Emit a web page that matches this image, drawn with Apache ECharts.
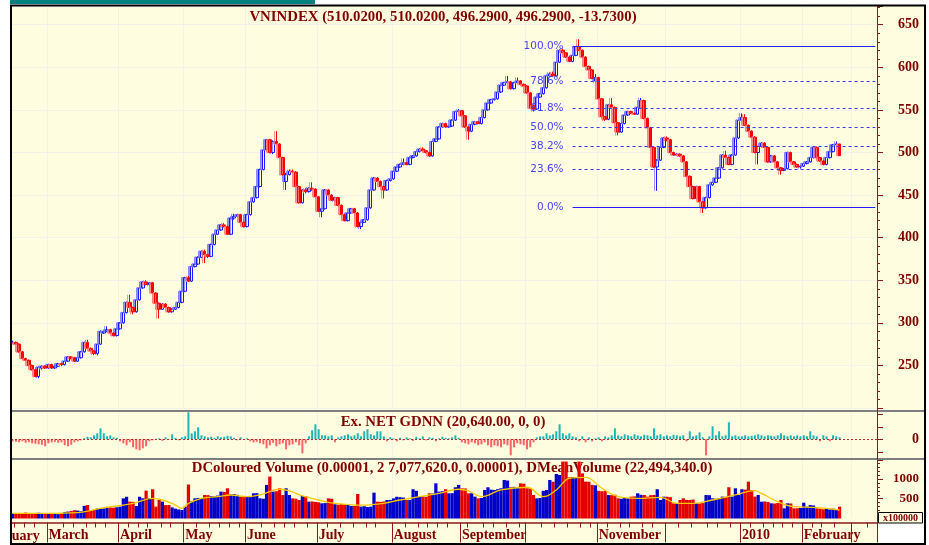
<!DOCTYPE html>
<html>
<head>
<meta charset="utf-8">
<title>VNINDEX</title>
<script src="https://cdn.jsdelivr.net/npm/echarts@6.0.0/dist/echarts.min.js"></script>
<style>
html, body { margin: 0; padding: 0; background: #fff; }
#chart { width: 929px; height: 545px; }
</style>
</head>
<body>
<div id="chart"></div>
<script>
// daily bars, Feb 2009 - Feb 2010
var opens = [
  277,277,275,266,258,256,250,245,237,247,
  249,247,251,247,249,252,251,255,260,259,
  255,259,266,277,270,267,264,275,288,290,
  292,288,285,293,300,312,324,318,313,327,
  341,348,345,347,335,323,316,322,318,313,
  316,318,324,337,353,349,366,369,377,384,
  380,378,392,404,409,415,413,404,423,425,
  427,418,413,427,442,447,460,480,503,515,
  500,513,510,494,466,474,478,477,460,441,
  456,454,458,457,448,431,434,456,450,444,
  447,438,427,420,429,434,429,413,418,421,
  435,456,470,466,460,456,467,469,478,483,
  486,488,486,494,496,501,504,502,500,496,
  513,516,530,534,530,531,538,548,549,543,
  530,525,533,536,534,541,550,558,562,563,
  571,579,582,583,575,582,584,580,578,570,
  555,551,565,569,576,590,592,590,606,620,
  617,612,607,614,624,620,612,601,597,584,
  588,563,542,539,556,553,535,524,534,544,
  548,546,545,553,561,540,529,506,483,491,
  506,517,515,500,497,498,496,489,472,460,
  446,460,442,435,447,462,465,470,482,497,
  494,486,497,517,538,541,532,525,518,500,
  507,511,506,489,496,489,482,479,481,500,
  489,486,483,484,487,489,494,506,494,490,
  486,494,501,509,510.02
];
var closes = [
  277,275,266,258,256,250,245,237,248,249,
  247,251,247,249,252,251,255,260,259,255,
  259,266,277,270,267,264,275,290,290,292,
  288,285,293,300,312,324,318,313,327,341,
  348,345,347,335,323,316,322,318,313,316,
  318,324,337,353,349,366,369,377,384,380,
  378,392,404,409,415,413,404,423,425,427,
  418,413,427,442,447,460,480,503,515,500,
  513,510,494,474,474,478,477,460,441,456,
  454,458,457,448,431,434,456,450,444,447,
  438,427,420,429,434,429,413,418,421,435,
  456,470,466,460,456,467,469,478,483,486,
  488,486,494,496,501,504,502,500,496,513,
  516,530,534,530,531,538,548,549,543,530,
  525,533,536,534,541,550,558,562,563,571,
  579,582,583,575,582,584,580,578,570,552,
  551,565,569,576,590,592,590,606,620,617,
  612,607,614,624,620,612,601,597,587,588,
  563,542,539,556,553,535,524,534,544,548,
  546,545,553,561,540,529,506,483,491,506,
  517,515,500,497,498,496,489,472,460,446,
  460,442,435,447,462,465,470,482,497,494,
  486,497,517,538,541,532,525,518,500,507,
  511,506,489,496,489,482,479,481,500,489,
  486,483,484,487,489,494,506,494,490,486,
  494,501,509,510,496.29
];
var lows = [
  275,274,265,257,255,249,244,236,235,245,
  246,246,246,246,248,249,250,254,257,254,
  254,258,265,269,266,262,262,274,287,289,
  287,284,284,292,299,311,317,310,312,326,
  340,344,343,334,322,305,315,317,312,312,
  315,317,323,336,348,348,365,368,376,370,
  376,377,391,403,408,412,403,403,421,424,
  417,412,412,426,441,446,459,479,502,499,
  498,509,493,473,456,473,476,459,440,440,
  452,453,455,447,430,424,433,449,443,442,
  437,426,419,419,428,428,412,410,417,420,
  434,455,465,459,446,455,466,468,477,482,
  485,485,485,493,495,500,501,499,495,495,
  512,515,529,529,529,530,537,547,542,529,
  515,524,532,533,533,540,549,557,561,562,
  570,578,581,574,574,581,579,577,569,551,
  548,550,564,568,575,589,589,589,605,616,
  611,606,606,613,619,611,600,596,586,582,
  562,541,537,538,552,534,520,523,533,543,
  545,544,544,552,539,528,505,482,455,490,
  505,513,499,496,496,495,488,471,459,445,
  445,441,429,434,446,461,464,469,481,493,
  485,485,496,516,536,531,524,517,499,486,
  506,505,488,488,488,481,474,478,480,488,
  485,482,481,483,486,488,493,493,489,485,
  485,493,500,508,496.29
];
var highs = [
  279,278,276,267,259,257,251,246,249,250,
  250,252,252,250,253,253,256,261,261,260,
  260,267,278,280,271,268,276,291,291,296,
  293,289,294,301,313,325,333,319,328,342,
  349,350,348,348,336,324,323,323,319,317,
  319,325,338,354,355,367,370,378,385,386,
  381,393,405,410,416,417,414,424,428,428,
  428,419,428,443,448,461,481,504,516,516,
  514,525,511,495,476,480,480,478,461,457,
  458,459,465,458,449,435,457,457,451,448,
  448,439,428,430,435,435,430,419,422,436,
  457,471,471,467,461,468,470,479,484,487,
  493,489,495,497,502,505,506,503,501,514,
  517,531,535,535,532,539,549,551,550,544,
  531,534,537,537,542,551,559,563,564,572,
  580,583,590,584,583,588,585,581,579,571,
  556,566,570,577,591,594,595,607,621,622,
  618,613,615,625,633,621,613,602,598,592,
  589,564,543,557,564,554,536,535,545,549,
  549,547,554,564,562,541,530,507,492,507,
  518,519,516,501,499,499,497,490,473,461,
  461,461,443,448,463,466,471,483,498,502,
  495,498,518,539,546,545,533,526,519,508,
  512,512,507,497,497,490,483,482,501,501,
  490,487,485,488,490,495,507,507,495,491,
  495,502,510,513,510.02
];
// volume, x100000
var volumes = [
  125,130,140,125,150,135,125,130,145,140,
  125,115,120,125,110,130,160,175,190,210,
  200,185,320,340,215,220,250,260,255,265,
  280,275,285,300,510,550,426,420,316,550,
  510,705,510,740,300,468,426,340,340,280,
  250,230,215,300,860,430,510,520,510,595,
  590,570,560,580,680,670,764,610,620,600,
  550,560,550,540,637,640,510,500,850,1060,
  680,690,764,595,764,595,510,500,468,570,
  570,426,430,420,410,384,390,510,500,360,
  350,370,355,360,316,320,620,300,310,290,
  300,654,426,420,430,468,470,510,550,540,
  530,468,470,740,700,553,560,550,637,630,
  890,680,690,740,637,640,790,850,764,760,
  637,640,553,510,520,722,790,730,720,740,
  764,975,960,790,800,780,890,880,764,760,
  595,510,520,700,720,975,930,1127,1100,1440,
  1440,1040,1050,1040,1440,1143,933,930,850,840,
  700,690,700,595,590,600,510,500,520,510,
  553,560,637,600,595,553,590,595,740,468,
  553,550,540,384,390,468,510,470,468,480,
  384,380,390,595,590,510,500,510,553,550,
  790,553,764,595,740,730,933,722,553,595,
  426,430,420,384,380,390,468,257,384,380,
  257,260,265,400,300,340,330,257,250,232,
  240,230,250,240,300
];
// Ex. NET GDNN, thousands
var netFlow = [
  -20,-25,-30,-20,-35,-30,-40,-45,-50,-55,
  -70,-40,-30,-25,-35,-30,-60,-70,-55,-30,
  -20,-10,10,25,20,40,60,110,60,30,
  40,20,15,-20,-40,-60,-30,-80,-100,-110,
  -90,-70,-20,-10,5,10,-15,20,5,50,
  15,-10,20,30,270,60,80,120,40,30,
  20,25,15,30,20,25,35,30,15,-10,
  20,-5,10,-20,-30,-25,-40,-50,-90,-60,
  -35,-70,-50,-40,-100,-60,-50,-30,-60,-140,
  -40,30,90,150,100,40,40,30,40,-30,
  20,30,40,50,30,40,60,30,80,100,
  50,40,80,80,30,-20,20,10,-20,15,
  -10,20,10,-15,25,10,30,-10,20,15,
  -20,10,25,15,10,20,40,15,-30,-40,
  -50,-30,-40,-60,-50,-30,-60,-80,-60,-70,
  -80,-50,-60,-160,-80,-40,-50,-60,-100,-80,
  -30,20,30,30,60,40,50,80,150,60,
  40,60,30,20,-20,30,-30,20,-20,10,
  20,-20,30,20,40,110,40,30,50,40,
  30,50,40,30,45,40,30,110,40,50,
  30,40,30,45,40,30,40,-20,80,30,
  40,70,20,-160,30,130,40,80,30,40,
  170,30,40,30,30,40,30,35,40,50,
  40,30,40,35,30,40,60,40,30,40,
  30,40,30,40,30,80,40,30,-20,40,
  30,-20,40,30,20.64
];
// DMeanVolume line, [bar, value]
var meanVolumePts = [
  [0,130],[10,130],[20,150],[27,257],[37,384],[43,510],[46,470],[50,340],[52,257],
  [54,384],[58,510],[63,553],[67,595],[72,553],[76,595],[82,740],[85,700],[89,570],
  [94,468],[99,384],[107,340],[114,384],[119,468],[125,553],[131,637],[137,740],
  [140,700],[144,553],[150,722],[158,790],[163,553],[167,722],[171,1017],[176,1040],
  [181,764],[186,553],[192,510],[199,536],[204,384],[209,384],[215,468],[222,595],
  [228,705],[230,637],[235,426],[240,300],[246,283],[250,257],[254,215]
];
var monthStarts = [11, 33, 53, 72, 94, 117, 138, 158, 180, 201, 224, 243, 258];
var monthLabels = ['March', 'April', 'May', 'June', 'July', 'August', 'September', '', 'November', '', '2010', 'February', ''];
var minorTicks = [1,4,7,16,19,23,26,29,36,39,42,46,49,57,61,64,67,70,77,81,84,87,91,97,101,105,109,112,
  121,125,128,131,134,140,145,148,152,156,163,167,171,175,178,183,187,190,194,197,205,209,214,217,221,
  227,231,234,237,240,246,249,253,263];
var fibLevels = [0, 23.6, 38.2, 50, 61.8, 78.6, 100];
var fibLow = 435.2, fibHigh = 624.6;

var BG = '#FFFDE0';
var BROWN = '#8B1A1A';
var LBL = '#800000';
var SERIF = '"Liberation Serif", "Times New Roman", serif';
var GRIDLINE = '#F2F2E8';
var NCAT = 266;

var cats = [];
for (var c = 0; c < NCAT; c++) cats.push(c);
var monthSet = {}, labelMap = {}, minorSet = {};
monthStarts.forEach(function (m, i) { monthSet[m] = true; labelMap[m] = monthLabels[i]; });
minorTicks.forEach(function (m) { minorSet[m] = true; });

var upData = [], downData = [], volData = [], netData = [];
for (var i = 0; i < closes.length; i++) {
  var item = [opens[i], closes[i], lows[i], highs[i]];
  var up = closes[i] >= opens[i];
  upData.push(up ? item : '-');
  downData.push(up ? '-' : item);
  volData.push({ value: volumes[i], itemStyle: { color: up ? '#0000C8' : '#E40000' } });
  netData.push({ value: netFlow[i], itemStyle: { color: netFlow[i] >= 0 ? '#1FB5B5' : '#FF6464' } });
}

var fibLines = fibLevels.map(function (lv) {
  var v = fibLow + (fibHigh - fibLow) * lv / 100;
  var solid = (lv === 0 || lv === 100);
  return [
    { coord: [172, v], lineStyle: { type: solid ? 'solid' : [3, 3], color: solid ? '#2222FF' : '#3A3AEE', width: 1 },
      label: { formatter: lv.toFixed(1) + '%' } },
    { coord: [265, v] }
  ];
});

function plainX(gi) {
  return {
    type: 'category', gridIndex: gi, data: cats, boundaryGap: true,
    axisLine: { show: false }, axisTick: { show: false }, axisLabel: { show: false },
    splitLine: { show: true, interval: function (idx) { return !!monthSet[idx]; }, lineStyle: { color: GRIDLINE, width: 1 } }
  };
}

var axisText = { color: LBL, fontWeight: 'bold', fontFamily: SERIF };
var TITLE_FONT = 'bold 14.8px ' + SERIF;

var option = {
  backgroundColor: BG,
  animation: false,
  grid: [
    { left: 11, right: 52, top: 6, height: 402 },
    { left: 11, right: 52, top: 411.3, height: 48 },
    { left: 11, right: 52, top: 460, height: 58.5 }
  ],
  xAxis: [
    plainX(0), plainX(1), plainX(2),
    {
      type: 'category', gridIndex: 2, data: cats, boundaryGap: true, position: 'bottom', offset: 4,
      axisLine: { show: true, lineStyle: { color: BROWN, width: 1.5 } },
      axisTick: { show: true, length: 20, interval: function (idx) { return !!monthSet[idx]; }, lineStyle: { color: BROWN, width: 1 } },
      axisLabel: {
        show: true, interval: function (idx) { return !!labelMap[idx]; },
        formatter: function (val, idx) { return labelMap[idx] || ''; },
        align: 'left', margin: 6, fontSize: 14, color: LBL, fontWeight: 'bold', fontFamily: SERIF
      },
      splitLine: { show: false }
    },
    {
      type: 'category', gridIndex: 2, data: cats, boundaryGap: true, position: 'bottom', offset: 4,
      axisLine: { show: false },
      axisTick: { show: true, length: 5, interval: function (idx) { return !!minorSet[idx]; }, lineStyle: { color: BROWN, width: 1 } },
      axisLabel: { show: false }, splitLine: { show: false }
    }
  ],
  yAxis: [
    {
      type: 'value', gridIndex: 0, position: 'right', min: 200, max: 672, interval: 50,
      axisLine: { show: true, lineStyle: { color: BROWN, width: 1 } },
      axisTick: { show: true, length: 6, lineStyle: { color: BROWN } },
      minorTick: { show: true, splitNumber: 5, length: 3, lineStyle: { color: BROWN } },
      axisLabel: Object.assign({ fontSize: 14, margin: 42, align: 'right',
        formatter: function (v) { return (v <= 200 || v > 650) ? '' : String(v); } }, axisText),
      splitLine: { show: true, lineStyle: { color: GRIDLINE, width: 1 } }
    },
    {
      type: 'value', gridIndex: 1, position: 'right', min: -200, max: 280,
      axisLine: { show: true, lineStyle: { color: BROWN, width: 1 } },
      axisTick: { show: true, length: 6, customValues: [-125, 0, 125, 250], lineStyle: { color: BROWN } },
      axisLabel: Object.assign({ fontSize: 14, margin: 42, align: 'right', customValues: [0],
        formatter: function (v) { return v === 0 ? '0' : ''; } }, axisText),
      splitLine: { show: false }
    },
    {
      type: 'value', gridIndex: 2, position: 'right', min: 0, max: 1480, interval: 500,
      axisLine: { show: true, lineStyle: { color: BROWN, width: 1 } },
      axisTick: { show: true, length: 6, lineStyle: { color: BROWN } },
      minorTick: { show: true, splitNumber: 5, length: 3, lineStyle: { color: BROWN } },
      axisLabel: Object.assign({ fontSize: 13, margin: 42, align: 'right',
        formatter: function (v) { return (v === 500 || v === 1000) ? String(v) : ''; } }, axisText),
      splitLine: { show: false }
    }
  ],
  series: [
    {
      name: 'up', type: 'candlestick', xAxisIndex: 0, yAxisIndex: 0, data: upData, barWidth: 3,
      itemStyle: { color: BG, color0: BG, borderColor: '#1A1AFF', borderColor0: '#1A1AFF', borderWidth: 1,
        shadowColor: 'rgba(120,120,255,0.8)', shadowOffsetX: -2, shadowBlur: 0 },
      markLine: {
        silent: true, symbol: ['none', 'none'], animation: false,
        label: { show: true, position: 'start', distance: 9, color: '#4646EE', fontSize: 10.5, fontFamily: '"DejaVu Sans", sans-serif' },
        data: fibLines
      }
    },
    {
      name: 'down', type: 'candlestick', xAxisIndex: 0, yAxisIndex: 0, data: downData, barWidth: 3,
      itemStyle: { color: '#FF0000', color0: '#FF0000', borderColor: '#FF0000', borderColor0: '#FF0000', borderWidth: 1,
        shadowColor: 'rgba(255,120,120,0.8)', shadowOffsetX: -2, shadowBlur: 0 }
    },
    {
      name: 'net', type: 'bar', xAxisIndex: 1, yAxisIndex: 1, data: netData, barWidth: 2,
      markLine: { silent: true, symbol: ['none', 'none'], label: { show: false }, animation: false,
        lineStyle: { color: '#B03030', type: [2, 2], width: 1 }, data: [{ yAxis: 0 }] }
    },
    {
      name: 'volume', type: 'bar', xAxisIndex: 2, yAxisIndex: 2, data: volData, barWidth: '100%'
    },
    {
      name: 'meanVolume', type: 'line', xAxisIndex: 2, yAxisIndex: 2, data: meanVolumePts,
      symbol: 'none', showSymbol: false, smooth: 0.4, z: 5,
      lineStyle: { color: '#F7C800', width: 1.3 }
    }
  ],
  graphic: [
    { type: 'text', x: 443, y: 17, z: 1, style: { text: 'VNINDEX (510.0200, 510.0200, 496.2900, 496.2900, -13.7300)',
      font: TITLE_FONT, fill: LBL, textAlign: 'center', align: 'center', textVerticalAlign: 'middle', verticalAlign: 'middle' } },
    { type: 'text', x: 443, y: 422, z: 1, style: { text: 'Ex. NET GDNN (20,640.00, 0, 0)',
      font: TITLE_FONT, fill: LBL, textAlign: 'center', align: 'center', textVerticalAlign: 'middle', verticalAlign: 'middle' } },
    { type: 'text', x: 452, y: 468, z: 1, style: { text: 'DColoured Volume (0.00001, 2 7,077,620.0, 0.00001), DMeanVolume (22,494,340.0)',
      font: TITLE_FONT, fill: LBL, textAlign: 'center', align: 'center', textVerticalAlign: 'middle', verticalAlign: 'middle' } },
    { type: 'text', x: -17, y: 536, z: 10, style: { text: 'February', font: 'bold 14px ' + SERIF, fill: LBL,
      textAlign: 'left', align: 'left', textVerticalAlign: 'middle', verticalAlign: 'middle' } },
    // outside margins
    { type: 'rect', z: 50, shape: { x: 0, y: 0, width: 10, height: 545 }, style: { fill: '#fff' } },
    { type: 'rect', z: 50, shape: { x: 926, y: 0, width: 3, height: 545 }, style: { fill: '#fff' } },
    { type: 'rect', z: 50, shape: { x: 0, y: 0, width: 929, height: 5 }, style: { fill: '#fff' } },
    { type: 'rect', z: 51, shape: { x: 10, y: 0, width: 305, height: 4 }, style: { fill: '#008080' } },
    { type: 'rect', z: 50, shape: { x: 878, y: 523.5, width: 47, height: 20 }, style: { fill: '#fff' } },
    // panel separators
    { type: 'line', z: 40, shape: { x1: 12, y1: 411, x2: 924, y2: 411 }, style: { stroke: '#7F7F7F', lineWidth: 2 } },
    { type: 'line', z: 40, shape: { x1: 12, y1: 459, x2: 924, y2: 459 }, style: { stroke: '#7F7F7F', lineWidth: 2 } },
    { type: 'line', z: 41, shape: { x1: 877.5, y1: 6, x2: 877.5, y2: 523 }, style: { stroke: BROWN, lineWidth: 1 } },
    // unit box
    { type: 'rect', z: 52, shape: { x: 878.5, y: 512.5, width: 44, height: 10.5 }, style: { fill: BG, stroke: '#000', lineWidth: 1 } },
    { type: 'text', z: 53, x: 900.5, y: 518, style: { text: 'x100000', font: 'bold 10px ' + SERIF, fill: LBL,
      textAlign: 'center', align: 'center', textVerticalAlign: 'middle', verticalAlign: 'middle' } },
    // frame
    { type: 'line', z: 60, shape: { x1: 10, y1: 5.5, x2: 926, y2: 5.5 }, style: { stroke: '#000', lineWidth: 2 } },
    { type: 'line', z: 60, shape: { x1: 11, y1: 5, x2: 11, y2: 545 }, style: { stroke: '#000', lineWidth: 2 } },
    { type: 'line', z: 60, shape: { x1: 925, y1: 5, x2: 925, y2: 545 }, style: { stroke: '#000', lineWidth: 2 } },
    { type: 'line', z: 60, shape: { x1: 10, y1: 544, x2: 926, y2: 544 }, style: { stroke: '#000', lineWidth: 2 } }
  ]
};

var chart = echarts.init(document.getElementById('chart'));
chart.setOption(option);
</script>
</body>
</html>
